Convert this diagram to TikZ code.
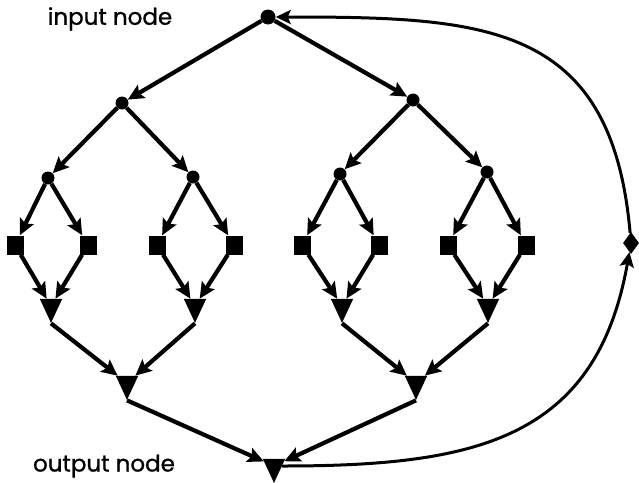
\documentclass[tikz,border=0pt]{standalone}
\usepackage{fontspec}
\setmainfont{Poppins}
\newfontfamily\lblfont{Poppins}[FakeBold=1]
\usetikzlibrary{shapes.geometric,arrows.meta}
\begin{document}
\begin{tikzpicture}[x=1pt,y=-1pt,
  dotnode/.style={circle,fill=black,inner sep=0pt,minimum size=13pt},
  sqnode/.style={rectangle,fill=black,inner sep=0pt,minimum width=17pt,minimum height=19pt},
  trinode/.style={isosceles triangle,shape border rotate=270,isosceles triangle apex angle=50,fill=black,inner sep=0pt,minimum height=24pt},
  dmnode/.style={diamond,fill=black,inner sep=0pt,minimum width=16pt,minimum height=22pt},
  conn/.style={line width=4.2pt,-{Stealth[length=16pt,width=15pt,inset=3pt]}},
  arc/.style={line width=3pt,-{Stealth[length=15pt,width=14pt,inset=3pt]}},
  lbl/.style={font=\lblfont\fontsize{23}{26}\selectfont}]
\useasboundingbox (0,0) rectangle (639,482);
\node[dotnode,minimum size=15pt] (in) at (268,17) {};
\node[dotnode] (a) at (122,103) {};
\node[dotnode] (b) at (413,100) {};
\node[dotnode] (c1) at (48,178) {};
\node[dotnode] (c2) at (193,177) {};
\node[dotnode] (c3) at (340,174) {};
\node[dotnode] (c4) at (487,172) {};
\node[sqnode] (s1) at (15,245) {};
\node[sqnode] (s2) at (88,245) {};
\node[sqnode] (s3) at (157,245) {};
\node[sqnode] (s4) at (234,245) {};
\node[sqnode] (s5) at (302,245) {};
\node[sqnode] (s6) at (379,245) {};
\node[sqnode] (s7) at (448,245) {};
\node[sqnode] (s8) at (526,245) {};
\node[dmnode] (dm) at (631,243) {};
\node[trinode] (t1) at (51,306) {};
\node[trinode] (t2) at (195,306) {};
\node[trinode] (t3) at (342,306) {};
\node[trinode] (t4) at (488,306) {};
\node[trinode] (u1) at (127,383) {};
\node[trinode] (u2) at (416,383) {};
\node[trinode] (out) at (274,466) {};
\node[lbl] (lin) at (110,19) {input node};
\node[lbl] (lout) at (104,466) {output node};
\draw[conn] (in) -- (a);
\draw[conn] (in) -- (b);
\draw[conn] (a) -- (c1);
\draw[conn] (a) -- (c2);
\draw[conn] (b) -- (c3);
\draw[conn] (b) -- (c4);
\draw[conn] (c1) -- (s1);
\draw[conn] (c1) -- (s2);
\draw[conn] (c2) -- (s3);
\draw[conn] (c2) -- (s4);
\draw[conn] (c3) -- (s5);
\draw[conn] (c3) -- (s6);
\draw[conn] (c4) -- (s7);
\draw[conn] (c4) -- (s8);
\draw[conn] (s1) -- (t1);
\draw[conn] (s2) -- (t1);
\draw[conn] (s3) -- (t2);
\draw[conn] (s4) -- (t2);
\draw[conn] (s5) -- (t3);
\draw[conn] (s6) -- (t3);
\draw[conn] (s7) -- (t4);
\draw[conn] (s8) -- (t4);
\draw[conn] (t1.apex) -- (u1);
\draw[conn] (t2.apex) -- (u1);
\draw[conn] (t3.apex) -- (u2);
\draw[conn] (t4.apex) -- (u2);
\draw[conn] (u1.apex) -- (out);
\draw[conn] (u2.apex) -- (out);
\draw[arc] (out) to[out=0,in=-100,looseness=1.2] (dm);
\draw[arc] (dm) to[out=95,in=0,looseness=1.3] (in);
\end{tikzpicture}
\end{document}
